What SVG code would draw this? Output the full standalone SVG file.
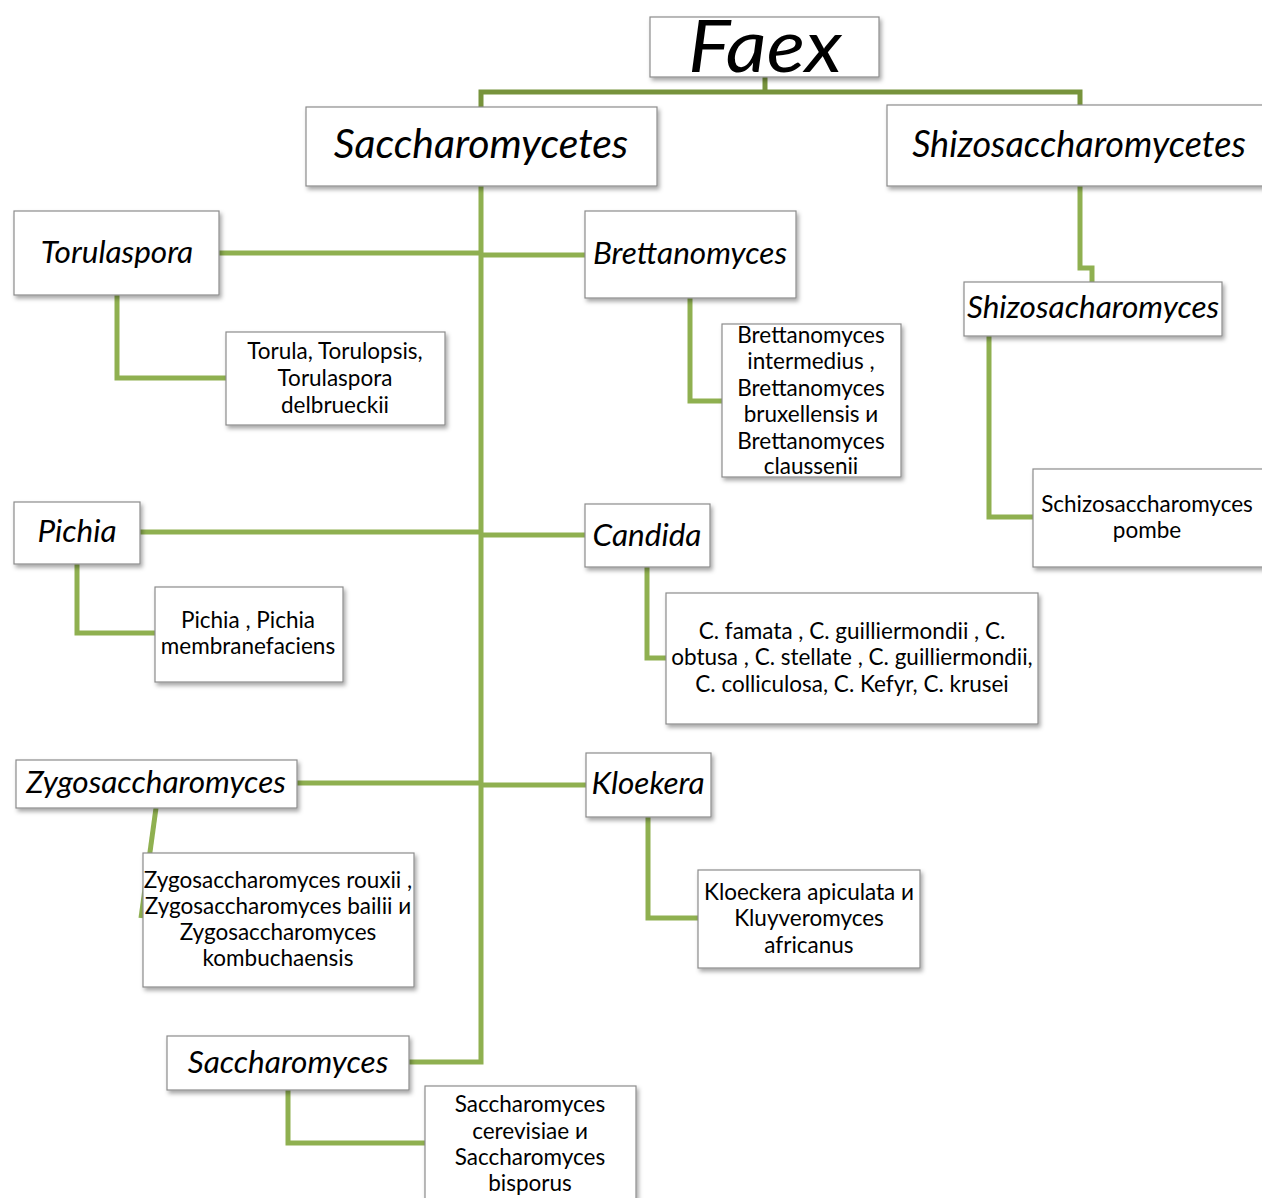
<svg xmlns="http://www.w3.org/2000/svg" width="1262" height="1198" viewBox="0 0 1262 1198">
<defs>
<filter id="sh" x="-10%" y="-10%" width="130%" height="140%">
<feDropShadow dx="2" dy="3" stdDeviation="2" flood-color="#000" flood-opacity="0.35"/>
</filter>
<style>
.box{fill:#fff;stroke:#8c8c8c;stroke-width:1.2;filter:url(#sh)}
.t{font-family:Lato,"Open Sans","Liberation Sans",sans-serif;font-style:italic;font-size:31.5px;fill:#000;text-anchor:middle}
.b{font-family:Lato,"Open Sans","Liberation Sans",sans-serif;font-size:22.5px;fill:#000;text-anchor:middle}
.c{fill:none;stroke:#8fb050;stroke-width:5}
.c0{fill:none;stroke:#77933c;stroke-width:5}
</style>
</defs>
<rect width="1262" height="1198" fill="#fff"/>
<g id="connectors">
<path class="c0" d="M765 77 V92 M481 107 V92 H1080 V105"/>
<path class="c" d="M481 186 V1062 H409"/>
<path class="c" d="M219 253 H481 M481 255 H585"/>
<path class="c" d="M140 532 H481 M481 535 H585"/>
<path class="c" d="M297 783 H481 M481 785 H586"/>
<path class="c" d="M1080 186 V268 H1092 V282"/>
<path class="c" d="M117 295 V378 H226"/>
<path class="c" d="M690 298 V401 H722"/>
<path class="c" d="M989 336 V517 H1033"/>
<path class="c" d="M77 564 V633 H155"/>
<path class="c" d="M647 567 V658 H666"/>
<path class="c" d="M156 808 L141 918"/>
<path class="c" d="M648 817 V918 H698"/>
<path class="c" d="M288 1090 V1143 H425"/>
</g>
<g id="faex"><rect class="box" x="650" y="17" width="229" height="60"/><text class="t" x="765" y="72" font-size="72" style="font-size:72px" textLength="154" lengthAdjust="spacingAndGlyphs">Faex</text></g>
<g id="saccharomycetes"><rect class="box" x="306" y="107" width="351" height="79"/><text class="t" x="481" y="158" style="font-size:41px">Saccharomycetes</text></g>
<g id="shizosaccharomycetes"><rect class="box" x="887" y="105" width="380" height="81"/><text class="t" x="1079" y="157" style="font-size:36px">Shizosaccharomycetes</text></g>
<g id="torulaspora"><rect class="box" x="14" y="211" width="205" height="84"/><text class="t" x="117" y="263">Torulaspora</text></g>
<g id="brettanomyces"><rect class="box" x="585" y="211" width="211" height="87"/><text class="t" x="690" y="264">Brettanomyces</text></g>
<g id="torula-sp"><rect class="box" x="226" y="332" width="219" height="93"/><text class="b" x="335"><tspan x="335" y="359">Torula, Torulopsis,</tspan><tspan x="335" y="386">Torulaspora</tspan><tspan x="335" y="413">delbrueckii</tspan></text></g>
<g id="brettanomyces-sp"><rect class="box" x="722" y="324" width="179" height="153"/><text class="b" x="811"><tspan x="811" y="343">Brettanomyces</tspan><tspan x="811" y="369">intermedius ,</tspan><tspan x="811" y="396">Brettanomyces</tspan><tspan x="811" y="422">bruxellensis и</tspan><tspan x="811" y="449">Brettanomyces</tspan><tspan x="811" y="474">claussenii</tspan></text></g>
<g id="shizosacharomyces"><rect class="box" x="964" y="282" width="258" height="54"/><text class="t" x="1093" y="318">Shizosacharomyces</text></g>
<g id="pombe"><rect class="box" x="1033" y="469" width="234" height="98"/><text class="b" x="1147"><tspan x="1147" y="512">Schizosaccharomyces</tspan><tspan x="1147" y="538">pombe</tspan></text></g>
<g id="pichia"><rect class="box" x="14" y="502" width="126" height="62"/><text class="t" x="77" y="542">Pichia</text></g>
<g id="candida"><rect class="box" x="585" y="504" width="125" height="63"/><text class="t" x="647" y="546">Candida</text></g>
<g id="pichia-sp"><rect class="box" x="155" y="587" width="188" height="95"/><text class="b" x="248"><tspan x="248" y="628">Pichia , Pichia</tspan><tspan x="248" y="654">membranefaciens</tspan></text></g>
<g id="candida-sp"><rect class="box" x="666" y="593" width="372" height="131"/><text class="b" x="852"><tspan x="852" y="639">C. famata , C. guilliermondii , C.</tspan><tspan x="852" y="665">obtusa , C. stellate , C. guilliermondii,</tspan><tspan x="852" y="692">C. colliculosa, C. Kefyr, C. krusei</tspan></text></g>
<g id="zygosaccharomyces"><rect class="box" x="16" y="760" width="281" height="48"/><text class="t" x="156" y="793">Zygosaccharomyces</text></g>
<g id="kloekera"><rect class="box" x="586" y="753" width="125" height="64"/><text class="t" x="648" y="794">Kloekera</text></g>
<g id="zygo-sp"><rect class="box" x="143" y="853" width="271" height="134"/><text class="b" x="278"><tspan x="278" y="888">Zygosaccharomyces rouxii ,</tspan><tspan x="278" y="914">Zygosaccharomyces bailii и</tspan><tspan x="278" y="940">Zygosaccharomyces</tspan><tspan x="278" y="966">kombuchaensis</tspan></text></g>
<g id="kloekera-sp"><rect class="box" x="698" y="870" width="222" height="98"/><text class="b" x="809"><tspan x="809" y="900">Kloeckera apiculata и</tspan><tspan x="809" y="926">Kluyveromyces</tspan><tspan x="809" y="953">africanus</tspan></text></g>
<g id="saccharomyces"><rect class="box" x="167" y="1036" width="242" height="54"/><text class="t" x="288" y="1073">Saccharomyces</text></g>
<g id="saccharomyces-sp"><rect class="box" x="425" y="1086" width="211" height="120"/><text class="b" x="530"><tspan x="530" y="1112">Saccharomyces</tspan><tspan x="530" y="1139">cerevisiae и</tspan><tspan x="530" y="1165">Saccharomyces</tspan><tspan x="530" y="1191">bisporus</tspan></text></g>
</svg>
